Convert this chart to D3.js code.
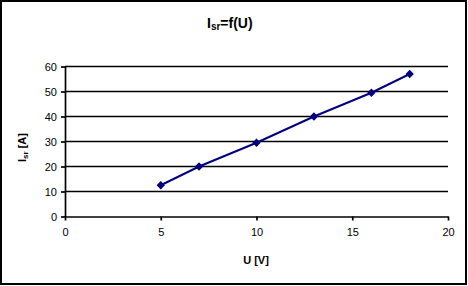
<!DOCTYPE html>
<html>
<head>
<meta charset="utf-8">
<script src="https://cdn.jsdelivr.net/npm/d3@7"></script>
<style>
  html, body { margin: 0; padding: 0; background: #fff; }
  svg { display: block; font-family: "Liberation Sans", Arial, sans-serif; }
</style>
</head>
<body>
<div id="chart"></div>
<script>
"use strict";

// === Data ===
const voltage = [5, 7, 10, 13, 16, 18];          // U [V]
const current = [12.5, 20, 29.5, 40, 49.5, 57];   // Isr [A]
const xTicks = [0, 5, 10, 15, 20];
const yTicks = [0, 10, 20, 30, 40, 50, 60];

const W = 468, H = 286;
const plot = { left: 65, right: 448, top: 66.5, bottom: 216.5 };

const svg = d3.select("#chart").append("svg")
  .attr("width", W).attr("height", H);

// outer frame
svg.append("rect")
  .attr("x", 1).attr("y", 1)
  .attr("width", W - 3).attr("height", H - 3)
  .attr("fill", "#fff").attr("stroke", "#000").attr("stroke-width", 2);

const x = d3.scaleLinear().domain([0, 20]).range([plot.left, plot.right]);
const y = d3.scaleLinear().domain([0, 60]).range([plot.bottom, plot.top]);

// gridlines
svg.append("g").selectAll("line")
  .data(yTicks.filter(d => d > 0))
  .enter().append("line")
  .attr("x1", plot.left).attr("x2", plot.right)
  .attr("y1", d => y(d)).attr("y2", d => y(d))
  .attr("stroke", "#000").attr("stroke-width", 1.7);

// axes
const xAxis = svg.append("g")
  .attr("transform", `translate(0,${plot.bottom})`)
  .call(d3.axisBottom(x).tickValues(xTicks).tickSize(4).tickPadding(8).tickSizeOuter(0));
const yAxis = svg.append("g")
  .attr("transform", `translate(${plot.left},0)`)
  .call(d3.axisLeft(y).tickValues(yTicks).tickSize(4).tickPadding(4).tickSizeOuter(0));

[xAxis, yAxis].forEach(a => {
  a.select(".domain").attr("stroke", "#000").attr("stroke-width", 1.7);
  a.selectAll(".tick line").attr("stroke", "#000").attr("stroke-width", 1.7);
  a.selectAll(".tick text")
    .attr("fill", "#000")
    .style("font-size", "11px")
    .style("font-family", "'Liberation Sans', Arial, sans-serif");
});

// data line
const pts = voltage.map((v, i) => [v, current[i]]);
svg.append("path")
  .datum(pts)
  .attr("fill", "none")
  .attr("stroke", "#000080")
  .attr("stroke-width", 2)
  .attr("d", d3.line().x(d => x(d[0])).y(d => y(d[1])));

// diamond markers
svg.append("g").selectAll("path")
  .data(pts)
  .enter().append("path")
  .attr("transform", d => `translate(${x(d[0])},${y(d[1])})`)
  .attr("d", d3.symbol().type(d3.symbolDiamond2).size(44))
  .attr("fill", "#000080");

// title
const title = svg.append("text")
  .attr("x", 207).attr("y", 28)
  .attr("font-size", "14px").attr("font-weight", "bold");
title.append("tspan").text("I");
title.append("tspan").attr("font-size", "10px").attr("dy", 2).text("sr");
title.append("tspan").attr("dy", -2).text("=f(U)");

// x label
svg.append("text")
  .attr("x", 256).attr("y", 264)
  .attr("text-anchor", "middle")
  .attr("font-size", "11px").attr("font-weight", "bold")
  .text("U [V]");

// y label
const yl = svg.append("text")
  .attr("transform", "translate(26,162) rotate(-90)")
  .attr("font-size", "11px").attr("font-weight", "bold");
yl.append("tspan").text("I");
yl.append("tspan").attr("font-size", "8px").attr("dy", 2).text("sr");
yl.append("tspan").attr("dy", -2).text(" [A]");
</script>
</body>
</html>
